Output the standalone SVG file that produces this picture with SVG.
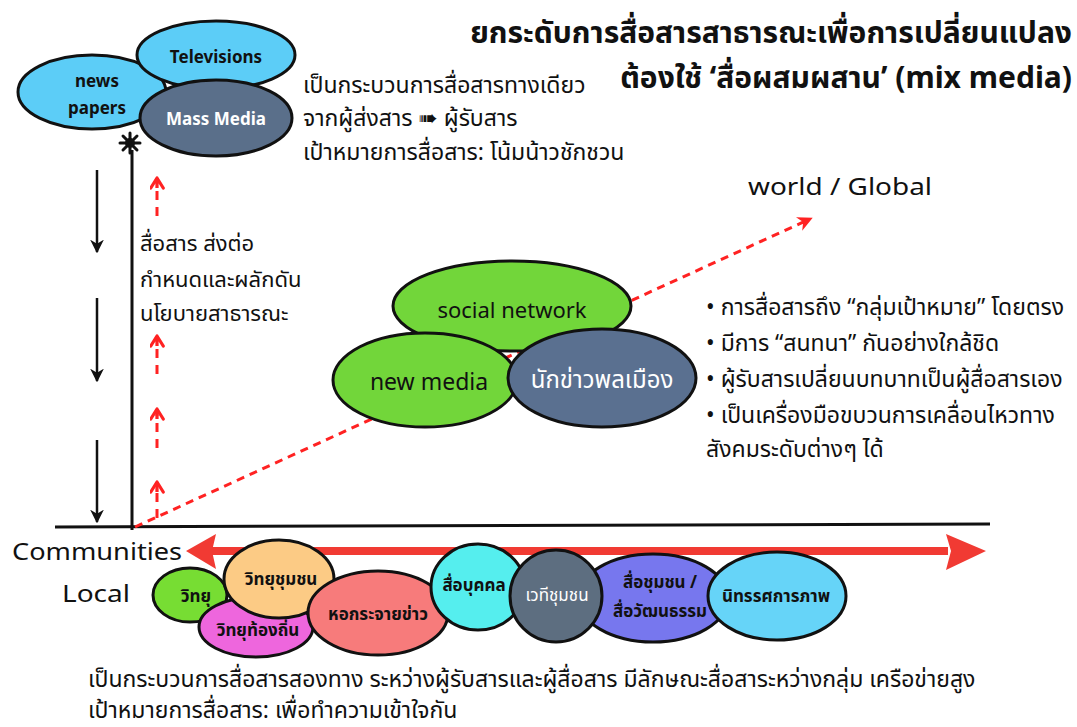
<svg xmlns="http://www.w3.org/2000/svg" width="1077" height="727" viewBox="0 0 1077 727">
<defs>
<style>
text{font-family:"Noto Sans","Noto Sans Thai","DejaVu Sans",sans-serif;fill:#111}
.t{font-size:23px}
.p{font-size:22px}
.h{font-size:30px;font-weight:bold}
.lbl{font-size:17px;font-weight:bold;text-anchor:middle}
.m{font-size:22px;text-anchor:middle}
.big{font-size:24px}
.e{stroke:#111;stroke-width:3}
</style>
<marker id="ab" viewBox="0 0 10 10" refX="9" refY="5" markerWidth="5.5" markerHeight="5.5" orient="auto"><path d="M0,0 L10,5 L0,10 L3,5 Z" fill="#111"/></marker>
<marker id="ar" viewBox="0 0 10 10" refX="8" refY="5" markerWidth="5" markerHeight="5" orient="auto"><path d="M0,0 L10,5 L0,10 L3,5 Z" fill="#f22"/></marker>
<marker id="ch" viewBox="0 0 12 12" refX="10" refY="6" markerWidth="5" markerHeight="5" orient="auto"><path d="M2,1 L10,6 L2,11" fill="none" stroke="#f22" stroke-width="2.6" stroke-linecap="round" stroke-linejoin="round"/><line x1="2" y1="6" x2="10" y2="6" stroke="#f22" stroke-width="2.6"/></marker>
</defs>
<rect width="1077" height="727" fill="#fff"/>

<g id="connectors">
<line x1="132" y1="150" x2="132" y2="530" stroke="#111" stroke-width="3"/>
<line x1="55" y1="527" x2="990" y2="524" stroke="#111" stroke-width="3"/>
<line x1="97" y1="170" x2="97" y2="252" stroke="#111" stroke-width="2.5" marker-end="url(#ab)"/>
<line x1="97" y1="298" x2="97" y2="381" stroke="#111" stroke-width="2.5" marker-end="url(#ab)"/>
<line x1="97" y1="440" x2="97" y2="522" stroke="#111" stroke-width="2.5" marker-end="url(#ab)"/>
<g stroke="#f22" stroke-width="3" fill="none">
<line x1="157" y1="216" x2="157" y2="178" stroke-dasharray="9,7" marker-end="url(#ch)"/>
<line x1="157" y1="374" x2="157" y2="336" stroke-dasharray="9,7" marker-end="url(#ch)"/>
<line x1="157" y1="448" x2="157" y2="409" stroke-dasharray="9,7" marker-end="url(#ch)"/>
<line x1="157" y1="518" x2="157" y2="482" stroke-dasharray="9,7" marker-end="url(#ch)"/>
<line x1="135" y1="527" x2="810" y2="219" stroke-dasharray="8,6" marker-end="url(#ar)"/>
</g>
<g id="red-double-arrow" fill="#f02a22" opacity="0.92">
<rect x="212" y="547" width="736" height="8"/>
<path d="M186,551 L216,534 L212,551 L216,569 Z"/>
<path d="M986,551 L946,534 L951,551 L946,570 Z"/>
</g>
</g>

<g id="asterisk" stroke="#111" stroke-width="3" stroke-linecap="round">
<line x1="120" y1="143" x2="140" y2="143"/>
<line x1="130" y1="133" x2="130" y2="153"/>
<line x1="123" y1="136" x2="137" y2="150"/>
<line x1="137" y1="136" x2="123" y2="150"/>
<circle cx="130" cy="143" r="3.5" fill="#111"/>
</g>

<g id="n-newspapers"><ellipse class="e" cx="92" cy="92" rx="74" ry="37" fill="#5ccdf7"/><text class="lbl" x="97" y="87">news</text><text class="lbl" x="97" y="114">papers</text></g>
<g id="n-televisions"><ellipse class="e" cx="216" cy="55" rx="79" ry="34" fill="#5ccdf7"/><text class="lbl" x="216" y="63">Televisions</text></g>
<g id="n-massmedia"><ellipse class="e" cx="216" cy="118" rx="76" ry="38" fill="#5a6f8a"/><text class="lbl" x="216" y="125" style="fill:#fff">Mass Media</text></g>

<g id="t-oneway">
<text class="t" x="303" y="93">เป็นกระบวนการสื่อสารทางเดียว</text>
<text class="t" x="303" y="126">จากผู้ส่งสาร ➠ ผู้รับสาร</text>
<text class="t" x="303" y="160">เป้าหมายการสื่อสาร: โน้มน้าวชักชวน</text>
</g>

<g id="title">
<text class="h" x="1072" y="43" text-anchor="end">ยกระดับการสื่อสารสาธารณะเพื่อการเปลี่ยนแปลง</text>
<text class="h" x="1072" y="88" text-anchor="end">ต้องใช้ ‘สื่อผสมผสาน’ (mix media)</text>
</g>

<g id="t-policy">
<text class="p" x="140" y="251">สื่อสาร ส่งต่อ</text>
<text class="p" x="140" y="287">กำหนดและผลักดัน</text>
<text class="p" x="140" y="321">นโยบายสาธารณะ</text>
</g>

<text class="big" x="748" y="195" textLength="184" lengthAdjust="spacingAndGlyphs">world / Global</text>

<g id="n-socialnetwork"><ellipse class="e" cx="512" cy="306" rx="119" ry="45" fill="#72d63a"/><text class="m" x="512" y="318">social network</text></g>
<g id="n-newmedia"><ellipse class="e" cx="425" cy="380" rx="92" ry="47" fill="#72d63a"/><text class="m" x="429" y="390" style="font-size:23px">new media</text></g>
<g id="n-citizen"><ellipse class="e" cx="602" cy="378" rx="94" ry="49" fill="#5a7090"/><text class="m" x="602" y="388" style="font-size:24px;fill:#fff">นักข่าวพลเมือง</text></g>

<g id="t-bullets">
<text class="t" x="706" y="315">• การสื่อสารถึง “กลุ่มเป้าหมาย” โดยตรง</text>
<text class="t" x="706" y="351">• มีการ “สนทนา” กันอย่างใกล้ชิด</text>
<text class="t" x="706" y="387">• ผู้รับสารเปลี่ยนบทบาทเป็นผู้สื่อสารเอง</text>
<text class="t" x="706" y="423">• เป็นเครื่องมือขบวนการเคลื่อนไหวทาง</text>
<text class="t" x="706" y="457">สังคมระดับต่างๆ ได้</text>
</g>

<text class="big" x="12" y="560" textLength="170" lengthAdjust="spacingAndGlyphs">Communities</text>
<text class="big" x="62" y="602" textLength="68" lengthAdjust="spacingAndGlyphs">Local</text>

<g id="n-radio"><ellipse class="e" cx="190" cy="595" rx="37" ry="27" fill="#77dd33"/><text class="lbl" x="196" y="602">วิทยุ</text></g>
<g id="n-local-radio"><ellipse class="e" cx="256" cy="627" rx="57" ry="30" fill="#ee66dd"/><text class="lbl" x="258" y="636">วิทยุท้องถิ่น</text></g>
<g id="n-community-radio"><ellipse class="e" cx="279" cy="579" rx="55" ry="39" fill="#fccb85"/><text class="lbl" x="281" y="585">วิทยุชุมชน</text></g>
<g id="n-tower"><ellipse class="e" cx="378" cy="613" rx="70" ry="42" fill="#f77b7b"/><text class="lbl" x="378" y="620">หอกระจายข่าว</text></g>
<g id="n-personal"><ellipse class="e" cx="478" cy="587" rx="47" ry="43" fill="#55eeee"/><text class="lbl" x="474" y="591">สื่อบุคคล</text></g>
<g id="n-culture"><ellipse class="e" cx="653" cy="598" rx="75" ry="44" fill="#7777ee"/><text class="lbl" x="660" y="588">สื่อชุมชน /</text><text class="lbl" x="660" y="617">สื่อวัฒนธรรม</text></g>
<g id="n-exhibit"><ellipse class="e" cx="777" cy="596" rx="69" ry="44" fill="#66d4f8"/><text class="lbl" x="776" y="602">นิทรรศการภาพ</text></g>
<g id="n-forum"><ellipse class="e" cx="556" cy="596" rx="46" ry="46" fill="#5d6e80"/><text class="lbl" x="557" y="601" style="font-weight:normal;fill:#fff">เวทีชุมชน</text></g>

<g id="t-twoway">
<text class="t" x="88" y="687">เป็นกระบวนการสื่อสารสองทาง ระหว่างผู้รับสารและผู้สื่อสาร มีลักษณะสื่อสาระหว่างกลุ่ม เครือข่ายสูง</text>
<text class="t" x="88" y="718">เป้าหมายการสื่อสาร: เพื่อทำความเข้าใจกัน</text>
</g>
</svg>
